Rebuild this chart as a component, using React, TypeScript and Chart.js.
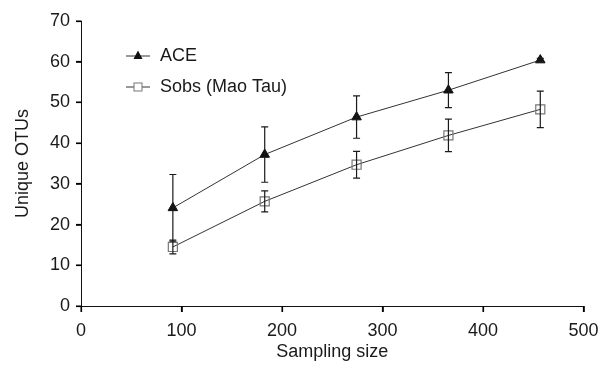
import React, { useEffect, useRef } from "react";
import { Chart, registerables } from "chart.js";

Chart.register(...registerables);

const samplingSizes = [91.4, 182.8, 274.2, 365.6, 457];
const aceValues = [24.1, 37.2, 46.4, 53.0, 60.4];
const aceErrors = [8.2, 6.8, 5.2, 4.3, 0.4];
const sobsValues = [14.5, 25.7, 34.7, 41.9, 48.3];
const sobsErrors = [1.7, 2.6, 3.3, 4.0, 4.5];
const seriesNames = ["ACE", "Sobs (Mao Tau)"];
const xTitle = "Sampling size";
const yTitle = "Unique OTUs";
const xTicks = [0, 100, 200, 300, 400, 500];
const yTicks = [0, 10, 20, 30, 40, 50, 60, 70];

const FONT = "'Liberation Sans', Arial, sans-serif";
const FS = 18;

const errorBarPlugin = {
  id: "errorBars",
  afterDatasetsDraw(chart: any) {
    const { ctx, scales } = chart;
    const xs = scales.x;
    const ys = scales.y;
    const sets = [
      { v: aceValues, e: aceErrors },
      { v: sobsValues, e: sobsErrors },
    ];
    ctx.save();
    ctx.strokeStyle = "#1a1a1a";
    ctx.lineWidth = 1.2;
    sets.forEach((s) => {
      s.v.forEach((val, i) => {
        const px = xs.getPixelForValue(samplingSizes[i]);
        const top = ys.getPixelForValue(val + s.e[i]);
        const bot = ys.getPixelForValue(val - s.e[i]);
        ctx.beginPath();
        ctx.moveTo(px, top);
        ctx.lineTo(px, bot);
        ctx.moveTo(px - 3.5, top);
        ctx.lineTo(px + 3.5, top);
        ctx.moveTo(px - 3.5, bot);
        ctx.lineTo(px + 3.5, bot);
        ctx.stroke();
      });
    });
    ctx.restore();
  },
};

const tickMarkPlugin = {
  id: "tickMarks",
  afterDraw(chart: any) {
    const { ctx, scales } = chart;
    const xs = scales.x;
    const ys = scales.y;
    const axisY = Math.round(ys.getPixelForValue(0));
    const axisX = Math.round(xs.getPixelForValue(0));
    ctx.save();
    ctx.fillStyle = "#000";
    xTicks.forEach((v) => {
      const px = Math.round(xs.getPixelForValue(v));
      ctx.fillRect(px - 0.5, axisY, 1.3, 6);
    });
    yTicks.forEach((v) => {
      const py = Math.round(ys.getPixelForValue(v));
      ctx.fillRect(axisX - 5, py - 0.5, 5.5, 1.3);
    });
    ctx.restore();
  },
};

const legendPlugin = {
  id: "customLegend",
  afterDraw(chart: any) {
    const { ctx } = chart;
    ctx.save();
    const items = [
      { y: 56, style: "triangle" },
      { y: 87, style: "rect" },
    ];
    items.forEach((it, i) => {
      ctx.strokeStyle = "#333";
      ctx.lineWidth = 1;
      ctx.beginPath();
      ctx.moveTo(126, it.y);
      ctx.lineTo(150, it.y);
      ctx.stroke();
      if (it.style === "triangle") {
        ctx.fillStyle = "#111";
        ctx.beginPath();
        ctx.moveTo(138, it.y - 5.5);
        ctx.lineTo(142.5, it.y + 3);
        ctx.lineTo(133.5, it.y + 3);
        ctx.closePath();
        ctx.fill();
      } else {
        ctx.fillStyle = "#fff";
        ctx.strokeStyle = "#777";
        ctx.fillRect(134, it.y - 4, 8, 8);
        ctx.strokeRect(134, it.y - 4, 8, 8);
      }
      ctx.fillStyle = "#1a1a1a";
      ctx.font = `${FS}px ${FONT}`;
      ctx.textBaseline = "middle";
      ctx.textAlign = "left";
      ctx.fillText(seriesNames[i], 160, it.y);
    });
    ctx.restore();
  },
};

export default function App() {
  const ref = useRef<HTMLCanvasElement>(null);
  useEffect(() => {
    document.body.style.margin = "0";
    const chart = new Chart(ref.current!, {
      type: "scatter",
      data: {
        datasets: [
          {
            label: seriesNames[0],
            data: samplingSizes.map((x, i) => ({ x, y: aceValues[i] })),
            showLine: true,
            borderColor: "#333",
            borderWidth: 1,
            pointStyle: "triangle",
            pointRadius: 5.5,
            pointBackgroundColor: "#111",
            pointBorderColor: "#111",
            pointBorderWidth: 1,
          },
          {
            label: seriesNames[1],
            data: samplingSizes.map((x, i) => ({ x, y: sobsValues[i] })),
            showLine: true,
            borderColor: "#333",
            borderWidth: 1,
            pointStyle: "rect",
            pointRadius: 6.4,
            pointBackgroundColor: "rgba(255,255,255,0)",
            pointBorderColor: "#777",
            pointBorderWidth: 1.2,
          },
        ],
      },
      options: {
        animation: false,
        responsive: false,
        layout: { padding: { top: 21, right: 17.5, left: 0, bottom: 0 } },
        plugins: { legend: { display: false }, tooltip: { enabled: false } },
        scales: {
          x: {
            type: "linear",
            min: 0,
            max: 500,
            ticks: { stepSize: 100, color: "#1a1a1a", font: { size: FS, family: FONT }, padding: 8 },
            grid: { display: true, drawOnChartArea: false, drawTicks: true, tickLength: 6, tickWidth: 1.2, tickColor: "#000", color: "#000" },
            border: { display: true, color: "#111", width: 1 },
            title: { display: true, text: xTitle, color: "#1a1a1a", font: { size: FS, family: FONT }, padding: { top: 0, bottom: 4 } },
            afterFit: (s: any) => { s.height = 61; s.paddingLeft = 0; s.paddingRight = 0; },
          },
          y: {
            type: "linear",
            min: 0,
            max: 70,
            ticks: { stepSize: 10, color: "#1a1a1a", font: { size: FS, family: FONT }, padding: 6 },
            grid: { display: true, drawOnChartArea: false, drawTicks: true, tickLength: 5, tickWidth: 1.2, tickColor: "#000", color: "#000" },
            border: { display: true, color: "#111", width: 1 },
            title: { display: true, text: yTitle, color: "#1a1a1a", font: { size: FS, family: FONT }, padding: { top: 12, bottom: 0 } },
            afterFit: (s: any) => { s.width = 81; s.paddingTop = 0; s.paddingBottom = 0; },
          },
        },
      },
      plugins: [errorBarPlugin, tickMarkPlugin, legendPlugin],
    });
    return () => chart.destroy();
  }, []);
  return (
    <div style={{ width: 601, height: 367, background: "#fff" }}>
      <canvas ref={ref} width={601} height={367} />
    </div>
  );
}
